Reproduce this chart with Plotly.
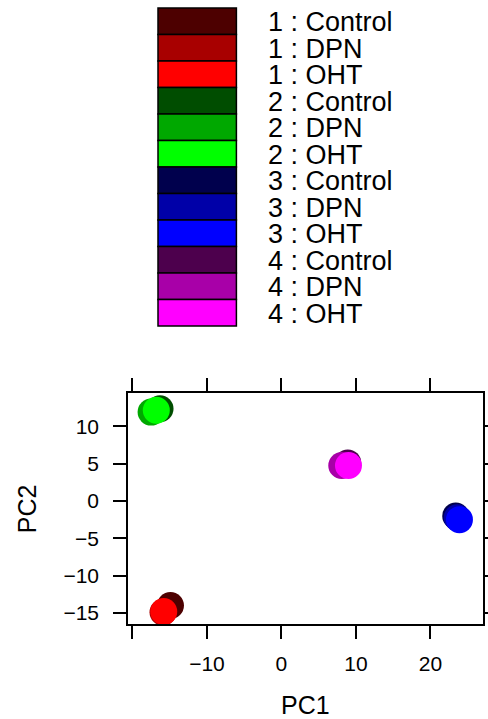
import plotly.graph_objects as go

# ---------------- data ----------------
groups = ["1", "1", "1", "2", "2", "2", "3", "3", "3", "4", "4", "4"]
treatments = ["Control", "DPN", "OHT"] * 4
pc1 = [-14.9, -15.9, -15.8, -16.3, -17.5, -16.8, 23.4, 23.6, 23.9, 8.9, 8.1, 9.0]
pc2 = [-14.0, -14.9, -14.8, 12.35, 11.9, 12.15, -2.0, -2.25, -2.5, 5.1, 4.75, 4.75]
colors = ["#4D0000", "#A80000", "#FF0000",
          "#004D00", "#00A800", "#00FF00",
          "#00004D", "#0000A8", "#0000FF",
          "#4D004D", "#A800A8", "#FF00FF"]
x_tickvals = [-20, -10, 0, 10, 20]
x_ticktext = ["", "\u221210", "0", "10", "20"]
y_tickvals = [-15, -10, -5, 0, 5, 10]
y_ticktext = ["\u221215", "\u221210", "\u22125", "0", "5", "10"]
x_range = [-20.6, 27.06]
y_range = [-16.47, 14.46]

labels = [f"{g} : {t}" for g, t in zip(groups, treatments)]

# ---------------- layout geometry (pixels) ----------------
W, H = 488, 719
L, R, T, B = 128.3, 483.3, 393.3, 624.3
pw, ph = R - L, B - T

def px_x(px):
    return (px - L) / pw

def px_y(py):
    return (B - py) / ph

FONT = "Liberation Sans, Arial, sans-serif"

fig = go.Figure()
for xv, yv, c, lab in zip(pc1, pc2, colors, labels):
    fig.add_trace(go.Scatter(
        x=[xv], y=[yv], mode="markers", name=lab,
        marker=dict(size=27, color=c, line=dict(width=0)),
        showlegend=False, cliponaxis=False,
    ))

# key (legend) drawn as rectangles + text above the panel
shapes = []
annotations = []
row_top, row_h = 8.3, 26.5
for i, (c, lab) in enumerate(zip(colors, labels)):
    y0 = row_top + i * row_h
    y1 = y0 + row_h
    shapes.append(dict(type="rect", xref="paper", yref="paper",
                       x0=px_x(158.3), x1=px_x(236.7),
                       y0=px_y(y1), y1=px_y(y0),
                       fillcolor=c, line=dict(color="black", width=1.5),
                       layer="above"))
    annotations.append(dict(xref="paper", yref="paper",
                            x=px_x(266), y=px_y((y0 + y1) / 2 + 1),
                            xanchor="left", yanchor="middle",
                            text=lab, showarrow=False,
                            font=dict(family=FONT, size=27, color="black")))

# axis titles
annotations.append(dict(xref="paper", yref="paper", x=0.5, y=px_y(705),
                        xanchor="center", yanchor="middle", text="PC1",
                        showarrow=False,
                        font=dict(family=FONT, size=25, color="black")))
annotations.append(dict(xref="paper", yref="paper", x=px_x(27), y=0.5,
                        xanchor="center", yanchor="middle", text="PC2",
                        textangle=-90, showarrow=False,
                        font=dict(family=FONT, size=25, color="black")))

axis_common = dict(showline=True, linecolor="black", linewidth=1.5,
                   mirror="allticks", ticks="outside", ticklen=13,
                   tickwidth=1.5, tickcolor="black", showgrid=False,
                   zeroline=False, automargin=False,
                   tickfont=dict(family=FONT, size=21, color="black"))

fig.update_layout(
    width=W, height=H, autosize=False,
    margin=dict(l=L, r=W - R, t=T, b=H - B, pad=0, autoexpand=False),
    paper_bgcolor="white", plot_bgcolor="white",
    xaxis=dict(range=x_range, tickmode="array", tickvals=x_tickvals,
               ticktext=x_ticktext, ticklabelstandoff=7, **axis_common),
    yaxis=dict(range=y_range, tickmode="array", tickvals=y_tickvals,
               ticktext=y_ticktext, ticklabelstandoff=10, **axis_common),
    shapes=shapes,
    annotations=annotations,
)

fig.write_html("out.html", config={"responsive": False})
